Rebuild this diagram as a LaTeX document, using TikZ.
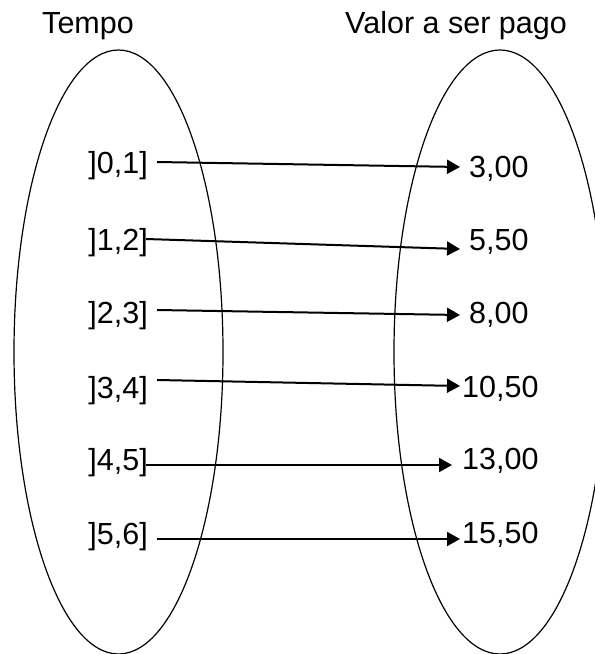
\documentclass[tikz,border=0pt]{standalone}
\usepackage{fontspec}
\setmainfont{Liberation Sans}
\usetikzlibrary{arrows.meta}

\begin{document}
\begin{tikzpicture}[x=1pt, y=-1pt,
    font=\fontsize{30.5}{36}\selectfont,
    set/.style={line width=1.2pt},
    lbl/.style={inner sep=0pt, text height=21.8pt, text depth=0pt},
    arr/.style={line width=2pt, -{Triangle[length=13pt, width=14pt]}}]

  \useasboundingbox (0,0) rectangle (595,654);

  % The two sets (domain and codomain).
  \draw[set] (118.5,352) ellipse [x radius=104.5pt, y radius=302pt];
  \draw[set] (500,352) ellipse [x radius=106pt, y radius=302pt];
  \node[lbl] (tempo) at (88,23) {Tempo};
  \node[lbl] (valor) at (456,23) {Valor a ser pago};

  % Intervals, amounts and the mapping arrows.
  \foreach \i/\t/\v/\ty/\vy/\vx/\sx/\sy/\ex/\ey in {
      1/{]0,1]}/{3,00}/163/167/469/9/1/9/0,
      2/{]1,2]}/{5,50}/240/240/469/-2/1/9/-9,
      3/{]2,3]}/{8,00}/313/313/469/9/3/9/-2,
      4/{]3,4]}/{10,50}/388/387/462/9/8/2/1,
      5/{]4,5]}/{13,00}/460/459/462/-2/-5/10/-6,
      6/{]5,6]}/{15,50}/534/533/462/9/-5/2/-6} {
    \node[lbl, anchor=east] (t\i) at (148,\ty) {\t};
    \node[lbl, anchor=west] (v\i) at (\vx,\vy) {\v};
    \draw[arr] ([xshift=\sx pt, yshift=\sy pt]t\i.east) -- ([xshift=-\ex pt, yshift=\ey pt]v\i.west);
  }
\end{tikzpicture}
\end{document}
